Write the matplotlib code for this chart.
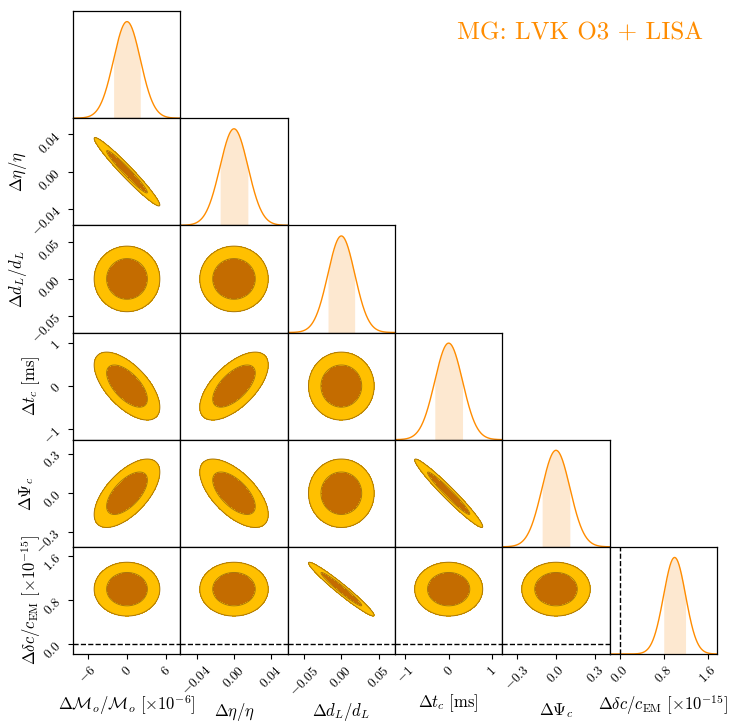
import numpy as np
import matplotlib
matplotlib.use("Agg")
import matplotlib.pyplot as plt

plt.rcParams['mathtext.fontset'] = 'cm'
plt.rcParams['font.family'] = 'serif'
plt.rcParams['font.serif'] = ['cmr10', 'DejaVu Serif']
plt.rcParams['axes.formatter.use_mathtext'] = True
plt.rcParams['axes.linewidth'] = 0.9

# parameter labels
labels = [r'$\Delta\mathcal{M}_o/\mathcal{M}_o\ [\times10^{-6}]$',
          r'$\Delta\eta/\eta$',
          r'$\Delta d_L/d_L$',
          r'$\Delta t_c\ [\mathrm{ms}]$',
          r'$\Delta\Psi_c$',
          r'$\Delta\delta c/c_{\rm EM}\ [\times10^{-15}]$']

# posterior means and 1-sigma widths
means = [0.0, 0.0, 0.0, 0.0, 0.0, 1.0]
sigmas = [2.05, 0.015, 0.018, 0.32, 0.107, 0.20]

# pairwise correlations (row, col, rho)
corr = [(1, 0, -0.97),
        (2, 0, 0.0), (2, 1, 0.0),
        (3, 0, -0.62), (3, 1, 0.62), (3, 2, 0.0),
        (4, 0, 0.62), (4, 1, -0.62), (4, 2, 0.0), (4, 3, -0.97),
        (5, 0, 0.0), (5, 1, 0.0), (5, 2, -0.97), (5, 3, 0.0), (5, 4, 0.0)]

# axis ranges and ticks
ranges = [(-8.25, 8.15), (-0.0575, 0.0575), (-0.072, 0.072),
          (-1.235, 1.235), (-0.41, 0.41), (-0.18, 1.77)]
ticks = [[-6, 0, 6], [-0.04, 0.0, 0.04], [-0.05, 0.0, 0.05],
         [-1, 0, 1], [-0.3, 0.0, 0.3], [0.0, 0.8, 1.6]]
tick_labels = [['$-6$', '$0$', '$6$'],
               ['$-0.04$', '$0.00$', '$0.04$'],
               ['$-0.05$', '$0.00$', '$0.05$'],
               ['$-1$', '$0$', '$1$'],
               ['$-0.3$', '$0.0$', '$0.3$'],
               ['$0.0$', '$0.8$', '$1.6$']]
reference_value = 0.0  # GR value for delta c

# label positions in axes fraction (x labels: y offset, y labels: x offset)
xlabel_pos = [-0.474, -0.545, -0.545, -0.456, -0.53, -0.474]
ylabel_pos = [None, -0.516, -0.516, -0.39, -0.437, -0.39]

line_col = '#ff8c00'
shade_col = '#fde8d0'
c68 = '#c46c00'
c95 = '#ffc000'
edge_col = '#a8760c'

n = len(labels)
fig, axes = plt.subplots(n, n, figsize=(7.29, 7.22), dpi=100)
fig.subplots_adjust(left=73/729, right=717/729, top=1 - 11/722, bottom=1 - 654/722,
                    wspace=0, hspace=0)

rho = np.zeros((n, n))
for i, j, r in corr:
    rho[i, j] = r

for i in range(n):
    for j in range(n):
        ax = axes[i, j]
        if j > i:
            ax.axis('off')
            continue
        ax.tick_params(direction='out', length=3.5, width=0.8, labelsize=9.5)
        if i == j:
            x = np.linspace(ranges[i][0], ranges[i][1], 400)
            y = np.exp(-0.5 * ((x - means[i]) / sigmas[i])**2)
            ax.plot(x, y, color=line_col, lw=1.0)
            m = np.abs(x - means[i]) <= sigmas[i]
            ax.fill_between(x[m], 0, y[m], color=shade_col, lw=0)
            ax.set_ylim(0, 1.11)
            ax.set_yticks([])
            if i == n - 1:
                ax.axvline(reference_value, color='k', ls='--', lw=1.0)
        else:
            gx = np.linspace(ranges[j][0], ranges[j][1], 300)
            gy = np.linspace(ranges[i][0], ranges[i][1], 300)
            X, Y = np.meshgrid(gx, gy)
            u = (X - means[j]) / sigmas[j]
            v = (Y - means[i]) / sigmas[i]
            r = rho[i, j]
            chi2 = (u**2 - 2 * r * u * v + v**2) / (1 - r**2)
            ax.contourf(X, Y, chi2, levels=[0, 2.30, 5.99], colors=[c68, c95])
            ax.contour(X, Y, chi2, levels=[2.30, 5.99], colors=edge_col, linewidths=0.7)
            ax.set_ylim(ranges[i])
            if i == n - 1:
                ax.axhline(reference_value, color='k', ls='--', lw=1.0)
        ax.set_xlim(ranges[j])

        if i == n - 1:
            ax.set_xticks(ticks[j])
            ax.set_xticklabels(tick_labels[j], rotation=45)
            lab = ax.set_xlabel(labels[j], fontsize=12)
            lab.set_va('center')
            ax.xaxis.set_label_coords(0.5, xlabel_pos[j])
        else:
            ax.set_xticks([])
        if j == 0 and i > 0:
            ax.set_yticks(ticks[i])
            ax.set_yticklabels(tick_labels[i], rotation=45)
            lab = ax.set_ylabel(labels[i], fontsize=12)
            lab.set_va('center')
            lab.set_ha('center')
            ax.yaxis.set_label_coords(ylabel_pos[i], 0.5)
        elif i != j:
            ax.set_yticks([])

fig.text(457/729, 1 - 33/722, 'MG: LVK O3 + LISA', color=line_col,
         fontsize=18, ha='left', va='center')

fig.savefig('out.png', dpi=100)
